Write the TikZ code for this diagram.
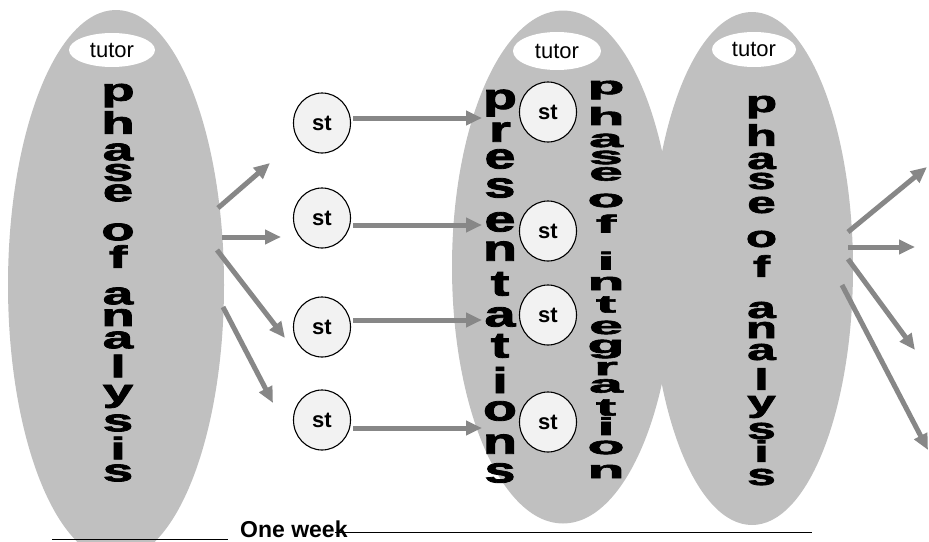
\documentclass[tikz,border=0pt]{standalone}
\usepackage{fontspec}
\setmainfont{Liberation Sans}[BoldFont={Liberation Sans Bold}]
\newfontfamily\heavyfont{Liberation Sans Bold}[FakeBold=2.2]
\newfontfamily\boldfont{Liberation Sans Bold}
\usetikzlibrary{shapes.geometric,arrows.meta}
\definecolor{ellgray}{RGB}{192,192,192}
\definecolor{arrgray}{RGB}{135,135,135}
\definecolor{stfill}{RGB}{242,242,242}
\begin{document}
\begin{tikzpicture}[x=1pt,y=-1pt,
  phase/.style={ellipse, fill=ellgray, inner sep=0pt},
  tutorbox/.style={ellipse, fill=white, inner sep=0pt, font=\fontsize{22}{22}\selectfont},
  stbox/.style={ellipse, draw=black, line width=1.1pt, fill=stfill, inner sep=0pt,
    minimum width=57pt, minimum height=60pt, font=\boldfont\fontsize{22}{22}\selectfont},
  flow/.style={draw=arrgray, line width=5pt, -{Triangle[length=16pt,width=14pt]}},
  letter/.style={inner sep=0pt, anchor=center},
  weekline/.style={draw=black, line width=1.6pt}]
\useasboundingbox (0,0) rectangle (929,541);

% big ellipses
\node[phase, minimum width=216pt, minimum height=550pt] (anaA) at (116,285) {};
\node[phase, minimum width=202pt, minimum height=513pt] (anaB) at (752,268.5) {};
\node[phase, minimum width=222pt, minimum height=513pt] (integ) at (563,267) {};

% tutors
\node[tutorbox, minimum width=86pt, minimum height=34pt] (tutA) at (112,50) {tutor};
\node[tutorbox, minimum width=88pt, minimum height=38pt] (tutM) at (557,51) {tutor};
\node[tutorbox, minimum width=84pt, minimum height=35pt] (tutB) at (754,49.5) {tutor};

% vertical texts
\foreach \c/\yy [count=\i] in {p/95.5,h/122.5,a/152,s/172.5,e/193,o/232,f/256.5,a/296,n/317.5,a/340,l/366,y/396.5,s/423,i/448,s/473}
  \node[letter, font=\heavyfont\fontsize{34}{34}\selectfont] (la\i) at (118,\yy) {\scalebox{1.6}[0.92]{\c}};
\foreach \c/\yy [count=\i] in {p/103,r/132,e/159,s/188,e/222,n/251,t/284,a/317,t/346,i/380,o/411,n/444,s/473}
  \node[letter, font=\heavyfont\fontsize{39}{39}\selectfont] (pr\i) at (500,\yy) {\scalebox{1.42}[0.92]{\c}};
\foreach \c/\yy [count=\i] in {p/90,h/116,a/140.5,s/157.5,e/174,o/200.5,f/223.5,i/260.5,n/283.5,t/304.5,e/327.5,g/349,r/368.5,a/386,t/407.5,i/426,o/447.5,n/471.5}
  \node[letter, font=\heavyfont\fontsize{31}{31}\selectfont] (in\i) at (606,\yy) {\scalebox{1.95}[0.8]{\c}};
\foreach \c/\yy [count=\i] in {p/107,h/135,a/161,s/181,e/205,o/239,f/266,a/310,n/330,a/352,l/379,y/407,s/431,i/451,s/477}
  \node[letter, font=\heavyfont\fontsize{34}{34}\selectfont] (lb\i) at (761.5,\yy) {\scalebox{1.5}[0.88]{\c}};

% students
\node[stbox] (s1) at (322,123) {st};
\node[stbox] (s2) at (322,218) {st};
\node[stbox] (s3) at (322,327) {st};
\node[stbox] (s4) at (322,420) {st};
\node[stbox] (m1) at (548,112) {st};
\node[stbox] (m2) at (548,231) {st};
\node[stbox] (m3) at (548,315) {st};
\node[stbox] (m4) at (548,422) {st};

% arrow end points
\coordinate (fa1) at (218,208); \coordinate (ta1) at (270,163);
\coordinate (fa2) at (222,237); \coordinate (ta2) at (281,237);
\coordinate (fa3) at (217,250); \coordinate (ta3) at (285,338);
\coordinate (fa4) at (223,307); \coordinate (ta4) at (273,403);
\coordinate (hs1) at (353,118); \coordinate (he1) at (482,118);
\coordinate (hs2) at (353,225); \coordinate (he2) at (482,225);
\coordinate (hs3) at (353,320); \coordinate (he3) at (482,320);
\coordinate (hs4) at (353,428); \coordinate (he4) at (482,428);
\coordinate (fb1) at (848,232); \coordinate (tb1) at (927,167);
\coordinate (fb2) at (848,247); \coordinate (tb2) at (915,247);
\coordinate (fb3) at (848,259); \coordinate (tb3) at (915,350);
\coordinate (fb4) at (842,285); \coordinate (tb4) at (928,450);

\foreach \k in {1,2,3,4} {
  \draw[flow] (fa\k) -- (ta\k);
  \draw[flow] (hs\k) -- (he\k);
  \draw[flow] (fb\k) -- (tb\k);
}

% time line
\coordinate (w1a) at (52,539.5); \coordinate (w1b) at (228,539.5);
\coordinate (w2a) at (335,532.5); \coordinate (w2b) at (812,532.5);
\node[anchor=base west, inner sep=0pt, font=\boldfont\fontsize{23}{23}\selectfont] (wk) at (240,537) {One week};
\draw[weekline] (w1a) -- (w1b);
\draw[weekline] (w2a) -- (w2b);
\end{tikzpicture}
\end{document}
